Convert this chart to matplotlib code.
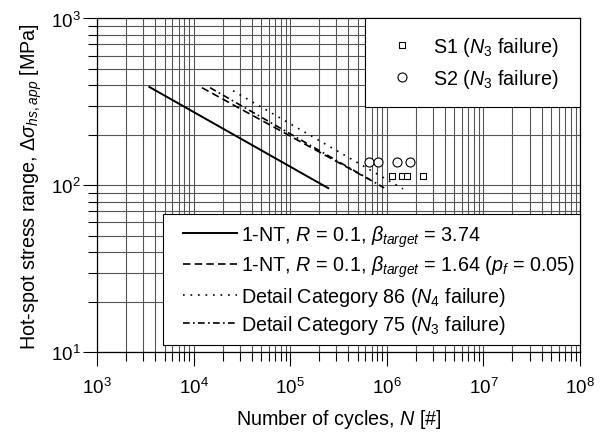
import matplotlib
matplotlib.use("Agg")
from matplotlib import pyplot as plt
from matplotlib.legend_handler import HandlerLine2D

plt.rcParams['font.family'] = ['Liberation Sans', 'DejaVu Sans']
plt.rcParams['mathtext.fontset'] = 'custom'
plt.rcParams['mathtext.rm'] = 'Liberation Sans'
plt.rcParams['mathtext.it'] = 'Liberation Sans:italic'
plt.rcParams['mathtext.bf'] = 'Liberation Sans:bold'

# design curves, end points (cycles, MPa)
nt374_N = [3.48e3, 2.48e5]
nt374_S = [389, 96.2]
nt164_N = [1.22e4, 6.7e5]
nt164_S = [385, 108]
cat86_N = [2.56e4, 1.47e6]
cat86_S = [369, 95.3]
cat75_N = [1.48e4, 9.4e5]
cat75_S = [385, 96.6]

# test results
s1_N = [1.125e6, 1.427e6, 1.63e6, 2.353e6]
s1_S = [113.5, 113.5, 113.5, 113.5]
s2_N = [6.59e5, 8.17e5, 1.265e6, 1.738e6]
s2_S = [139, 139, 139, 139]

fs = 14.2

fig = plt.figure(figsize=(6.05, 4.35), dpi=100)
ax = fig.add_axes([0.1603, 0.1878, 0.7984, 0.7674])
ax.set_xscale('log')
ax.set_yscale('log')
ax.set_xlim(1e3, 1e8)
ax.set_ylim(10, 1000)

ax.grid(True, which='both', color='#555555', lw=0.8)
ax.set_axisbelow(True)

lw = 1.2
l1, = ax.plot(nt374_N, nt374_S, color='k', lw=1.4, ls='-')
l2, = ax.plot(nt164_N, nt164_S, color='k', lw=lw, ls=(0, (4.5, 2.5)))
l3, = ax.plot(cat86_N, cat86_S, color='k', lw=lw, ls=(0, (1, 3.5)))
l4, = ax.plot(cat75_N, cat75_S, color='k', lw=lw, ls=(0, (4, 2, 1, 2)))

m1, = ax.plot(s1_N, s1_S, ls='none', marker='s', ms=5, mfc='white', mec='k', mew=0.8)
m2, = ax.plot(s2_N, s2_S, ls='none', marker='o', ms=6.5, mfc='white', mec='k', mew=0.8)

leg1 = ax.legend([m1, m2], ['S1 ($N_3$ failure)', 'S2 ($N_3$ failure)'],
                 loc='upper left', bbox_to_anchor=(0.555, 0.0, 0.445, 1.0), mode='expand',
                 borderaxespad=0, fontsize=fs, fancybox=False, framealpha=1,
                 edgecolor='k', handlelength=2.0, handletextpad=0.6, borderpad=0.85,
                 labelspacing=0.45)
leg1.get_frame().set_linewidth(0.8)
ax.add_artist(leg1)

# shift the line handles to the right inside the box
hmap = {l: HandlerLine2D(xpad=0.55) for l in (l1, l2, l3, l4)}
leg2 = ax.legend([l1, l2, l3, l4],
                 ['1-NT, $R$ = 0.1, $\\beta_{target}$ = 3.74',
                  '1-NT, $R$ = 0.1, $\\beta_{target}$ = 1.64 ($p_f$ = 0.05)',
                  'Detail Category 86 ($N_4$ failure)',
                  'Detail Category 75 ($N_3$ failure)'],
                 handler_map=hmap,
                 loc='lower left', bbox_to_anchor=(0.1366, 0.0219, 0.8634, 0.5), mode='expand',
                 borderaxespad=0, fontsize=fs, fancybox=False, framealpha=1,
                 edgecolor='k', handlelength=3.3, handletextpad=0.2, borderpad=0.45,
                 labelspacing=0.27)
leg2.get_frame().set_linewidth(0.8)

ax.tick_params(which='major', direction='out', length=10, width=0.8, labelsize=13.5, pad=8)
ax.tick_params(which='minor', direction='out', length=6.5, width=0.8)
ax.tick_params(axis='y', which='major', pad=2)
for sp in ax.spines.values():
    sp.set_linewidth(0.9)

ax.set_xlabel('Number of cycles, $N$ [#]', fontsize=fs, labelpad=7)
ax.set_ylabel('Hot-spot stress range, $\\Delta\\sigma_{hs,app}$ [MPa]', fontsize=fs, labelpad=5)

fig.savefig('out.png', dpi=100)
